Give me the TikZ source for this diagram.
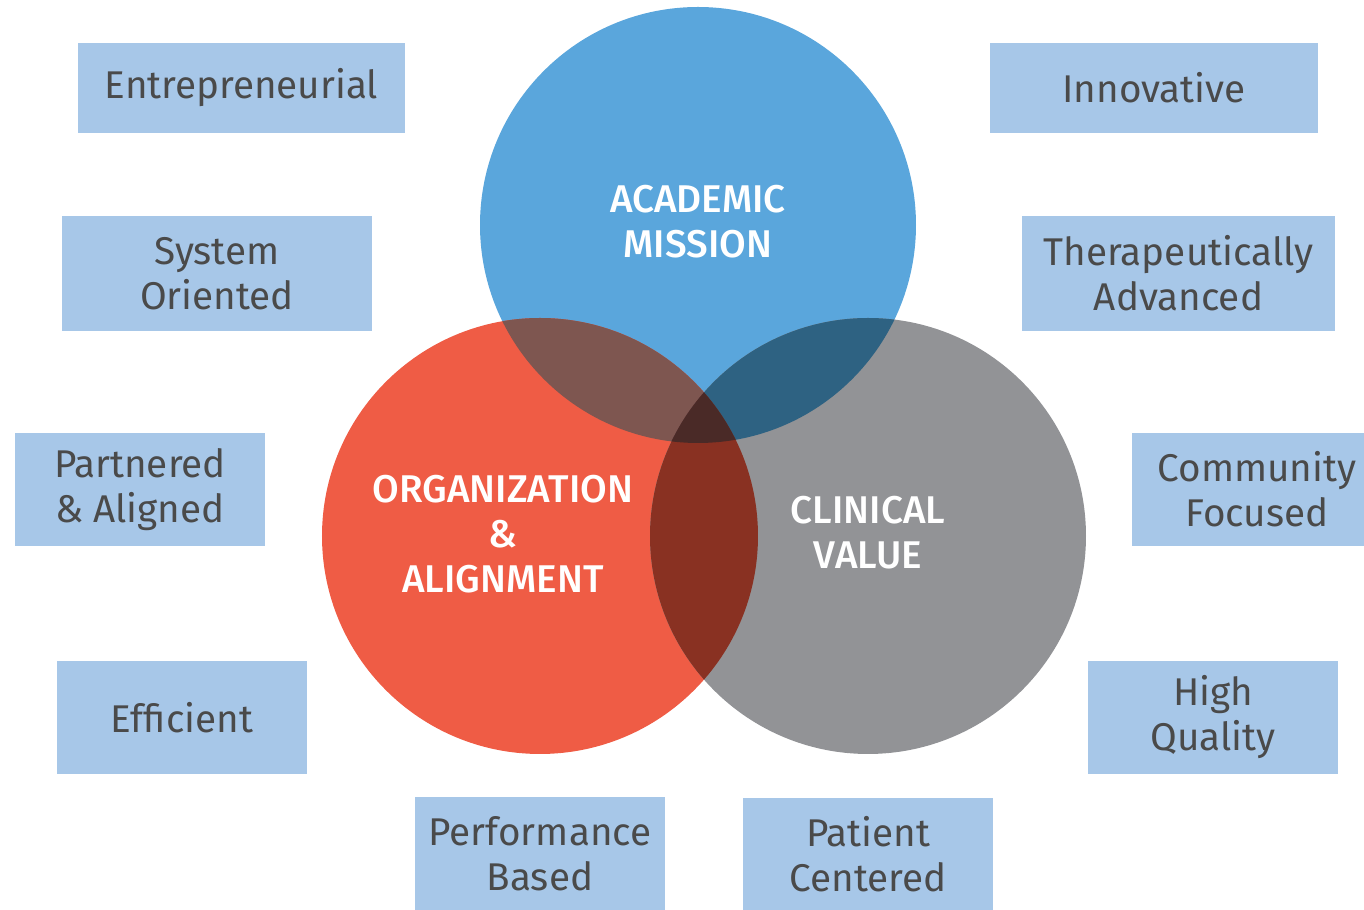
\documentclass[tikz,border=0pt]{standalone}
\usepackage{fontspec}
\setmainfont{Fira Sans}
\newfontfamily\headfont{Fira Sans Medium}
\usepackage{tikz}
\usetikzlibrary{backgrounds}

\definecolor{academicblue}{HTML}{5AA6DC}
\definecolor{orgred}{HTML}{EF5C45}
\definecolor{clinicalgray}{HTML}{929396}
\definecolor{mixao}{HTML}{7E5650}
\definecolor{mixac}{HTML}{2E6282}
\definecolor{mixoc}{HTML}{893122}
\definecolor{mixall}{HTML}{4A2A27}
\definecolor{traitblue}{HTML}{A7C7E8}
\definecolor{traitgray}{HTML}{4A4A4A}

\begin{document}
\begin{tikzpicture}
        %
        % `ring' is used for the three big circles.
        % `trait' is used for the light blue boxes round the outside.
        % `heading' is used for the white text inside the circles.
        \tikzstyle{ring} = [circle,minimum size=4.36cm,inner sep=0pt]
        \tikzstyle{trait} = [fill=traitblue,text=traitgray,align=center,inner sep=0pt,minimum width=2.5cm,minimum height=1.13cm,font=\fontsize{11}{12.8}\selectfont]
        \tikzstyle{heading} = [text=white,align=center,font=\fontsize{11}{12.8}\selectfont\headfont]
        %
        \useasboundingbox (0,0) rectangle (13.64,-9.10);
        %
        % Circles
        \node[ring,fill=academicblue] (academic) at (6.98,-2.25) {};
        \node[ring,fill=orgred] (organization) at (5.40,-5.36) {};
        \node[ring,fill=clinicalgray] (clinical) at (8.68,-5.36) {};
        %
        % Overlaps
        \begin{scope}
        \clip (academic.center) circle (2.18);
        \fill[mixao] (organization.center) circle (2.18);
        \fill[mixac] (clinical.center) circle (2.18);
        \end{scope}
        \begin{scope}
        \clip (organization.center) circle (2.18);
        \fill[mixoc] (clinical.center) circle (2.18);
        \clip (clinical.center) circle (2.18);
        \fill[mixall] (academic.center) circle (2.18);
        \end{scope}
        %
        % Circle titles
        \node[heading] (academictext) at (6.98,-2.22) {ACADEMIC\\MISSION};
        \node[heading] (organizationtext) at (5.03,-5.34) {ORGANIZATION\\\&\\ALIGNMENT};
        \node[heading] (clinicaltext) at (8.68,-5.33) {CLINICAL\\VALUE};
        %
        % Left column
        \node[trait,minimum width=3.27cm,minimum height=0.90cm] (entre) at (2.415,-0.88) {Entrepreneurial};
        \node[trait,minimum width=3.10cm,minimum height=1.15cm] (system) at (2.17,-2.735) {System\\Oriented};
        \node[trait] (partnered) at (1.40,-4.895) {Partnered\\\& Aligned};
        \node[trait] (efficient) at (1.82,-7.175) {Efficient};
        %
        % Right column
        \node[trait,minimum width=3.28cm,minimum height=0.90cm] (innov) at (11.54,-0.88) {Innovative};
        \node[trait,minimum width=3.13cm,minimum height=1.15cm] (thera) at (11.785,-2.735) {Therapeutically\\Advanced};
        \node[trait] (community) at (12.57,-4.895) {Community\\Focused};
        \node[trait] (quality) at (12.13,-7.175) {High\\Quality};
        %
        % Bottom row
        \node[trait] (performance) at (5.40,-8.535) {Performance\\Based};
        \node[trait,minimum height=1.12cm] (patient) at (8.68,-8.54) {Patient\\Centered};
        %
\end{tikzpicture}
\end{document}
